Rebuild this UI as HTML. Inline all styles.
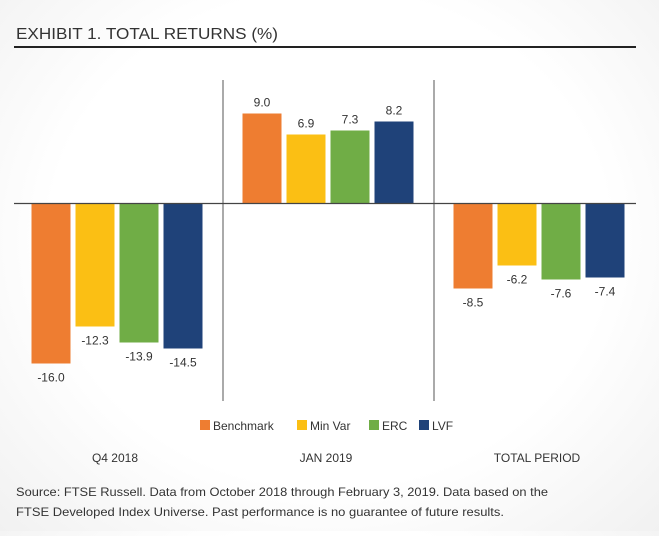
<!DOCTYPE html>
<html><head><meta charset="utf-8"><style>
html,body{margin:0;padding:0}
body{width:659px;height:531px;overflow:hidden;background:radial-gradient(ellipse at 50% 45%,#ffffff 60%,#f1f1f1 100%);font-family:"Liberation Sans",sans-serif;}
svg text{font-family:"Liberation Sans",sans-serif;fill:#333}
</style></head><body>
<svg width="659" height="531">
<text x="16" y="39" font-size="15.5" textLength="262" lengthAdjust="spacingAndGlyphs">EXHIBIT 1. TOTAL RETURNS (%)</text>
<line x1="14" y1="47" x2="636" y2="47" stroke="#222" stroke-width="2"/>
<line x1="223" y1="80" x2="223" y2="401" stroke="#555" stroke-width="1"/>
<line x1="434" y1="80" x2="434" y2="401" stroke="#555" stroke-width="1"/>
<g id="bars"></g>
<line x1="14" y1="203.5" x2="636" y2="203.5" stroke="#444" stroke-width="1.2"/>
<g id="legend"></g>
<g id="cats"></g>
<text x="16" y="496" font-size="12" textLength="532" lengthAdjust="spacingAndGlyphs">Source: FTSE Russell. Data from October 2018 through February 3, 2019. Data based on the</text>
<text x="16" y="516" font-size="12" textLength="488" lengthAdjust="spacingAndGlyphs">FTSE Developed Index Universe. Past performance is no guarantee of future results.</text>
</svg>
<script>
const categories=["Q4 2018","JAN 2019","TOTAL PERIOD"];
const seriesNames=["Benchmark","Min Var","ERC","LVF"];
const benchmark=[-16.0,9.0,-8.5];
const minVar=[-12.3,6.9,-6.2];
const erc=[-13.9,7.3,-7.6];
const lvf=[-14.5,8.2,-7.4];
const colors=["#ee7d31","#fbbf14","#70ad46","#1f4279"];
const series=[benchmark,minVar,erc,lvf];
const NS="http://www.w3.org/2000/svg";
const y0=203.5,scale=10;
function yScale(v){return y0-v*scale;}
function groupCenter(i){return 117+i*211;}
const bw=39,step=44;
const bars=document.getElementById('bars');
categories.forEach((c,ci)=>{
  series.forEach((s,si)=>{
    const v=s[ci];
    const x=groupCenter(ci)-2*step+si*step+2.5;
    const y=Math.min(yScale(v),y0),h=Math.abs(v)*scale;
    const r=document.createElementNS(NS,'rect');
    r.setAttribute('x',x);r.setAttribute('y',y);r.setAttribute('width',bw);r.setAttribute('height',h);r.setAttribute('fill',colors[si]);
    
    
    bars.appendChild(r);
    const t=document.createElementNS(NS,'text');
    t.setAttribute('x',x+bw/2);t.setAttribute('text-anchor','middle');t.setAttribute('font-size','12');
    t.setAttribute('y',v>=0?yScale(v)-7:yScale(v)+18);
    t.textContent=v.toFixed(1);
    
    
    bars.appendChild(t);
  });
  const ct=document.createElementNS(NS,'text');
  ct.setAttribute('x',groupCenter(ci)-2);ct.setAttribute('y',462);ct.setAttribute('text-anchor','middle');ct.setAttribute('font-size','12');
  ct.textContent=c;
  
  
  document.getElementById('cats').appendChild(ct);
});
const legX=[200,297,369,419];
const lg=document.getElementById('legend');
seriesNames.forEach((n,i)=>{
  const g=document.createElementNS(NS,'g');
  
  
  const r=document.createElementNS(NS,'rect');
  r.setAttribute('x',legX[i]);r.setAttribute('y',420);r.setAttribute('width',10);r.setAttribute('height',10);r.setAttribute('fill',colors[i]);
  const t=document.createElementNS(NS,'text');
  t.setAttribute('x',legX[i]+13);t.setAttribute('y',430);t.setAttribute('font-size','12');t.textContent=n;
  g.appendChild(r);g.appendChild(t);lg.appendChild(g);
});
</script>
</body></html>
